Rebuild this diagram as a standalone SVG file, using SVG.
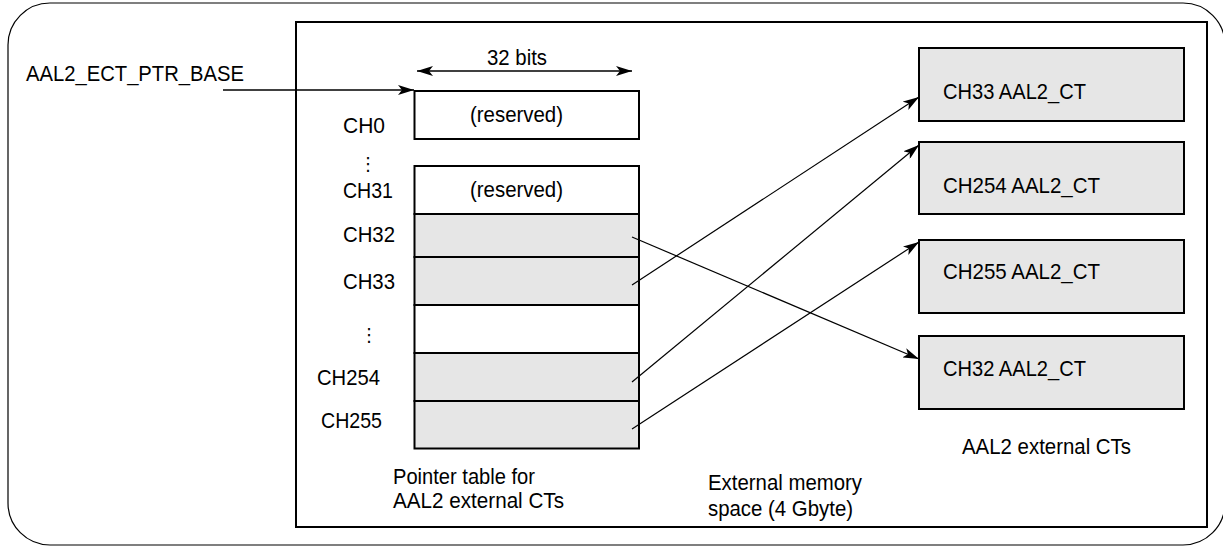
<svg xmlns="http://www.w3.org/2000/svg" width="1223" height="546" viewBox="0 0 1223 546">
<style>
text{font-family:"Liberation Sans",Arial,Helvetica,sans-serif;font-size:22px;fill:#000}
.box{fill:#fff;stroke:#000;stroke-width:2}
.gbox{fill:#e6e6e6;stroke:#000;stroke-width:2}
.conn{fill:none;stroke:#000;stroke-width:1.2}
.thick{fill:none;stroke:#000;stroke-width:1.6}
.dots{font-family:"DejaVu Sans",sans-serif;font-size:18px}
</style>
<defs>
<marker id="ah" markerUnits="userSpaceOnUse" viewBox="0 0 16 10" refX="16" refY="5" markerWidth="16" markerHeight="10" orient="auto">
<path d="M0,0 L16,5 L0,10 L4,5 z" fill="#000"/>
</marker>
<marker id="ahs" markerUnits="userSpaceOnUse" viewBox="0 0 16 10" refX="0" refY="5" markerWidth="16" markerHeight="10" orient="auto">
<path d="M16,0 L0,5 L16,10 L12,5 z" fill="#000"/>
</marker>
</defs>
<g id="frame">
<rect x="8" y="3" width="1217" height="542" rx="42" ry="42" fill="none" stroke="#000" stroke-width="1.2"/>
<rect x="296" y="22" width="911" height="505" fill="none" stroke="#000" stroke-width="2"/>
</g>
<g id="base-label"><text x="26" y="81" textLength="218" lengthAdjust="spacingAndGlyphs">AAL2_ECT_PTR_BASE</text></g>
<g id="width-label"><text x="487" y="65" textLength="60" lengthAdjust="spacingAndGlyphs">32 bits</text></g>
<g id="table">
<rect id="row-ch0" class="box" x="414.5" y="91" width="224.5" height="48"/>
<text x="470" y="122" textLength="93" lengthAdjust="spacingAndGlyphs">(reserved)</text>
<rect id="row-ch31" class="box" x="414.5" y="166" width="224.5" height="48"/>
<text x="470" y="197" textLength="93" lengthAdjust="spacingAndGlyphs">(reserved)</text>
<rect id="row-ch32" class="gbox" x="414.5" y="214" width="224.5" height="43"/>
<rect id="row-ch33" class="gbox" x="414.5" y="257" width="224.5" height="48"/>
<rect id="row-gap" class="box" x="414.5" y="305" width="224.5" height="48"/>
<rect id="row-ch254" class="gbox" x="414.5" y="353" width="224.5" height="48"/>
<rect id="row-ch255" class="gbox" x="414.5" y="401" width="224.5" height="47.5"/>
</g>
<g id="row-labels">
<text x="343" y="133" textLength="42" lengthAdjust="spacingAndGlyphs">CH0</text>
<text class="dots" x="368" y="170" text-anchor="middle">⋮</text>
<text x="343" y="198" textLength="50" lengthAdjust="spacingAndGlyphs">CH31</text>
<text x="343" y="242" textLength="52" lengthAdjust="spacingAndGlyphs">CH32</text>
<text x="343" y="289" textLength="52" lengthAdjust="spacingAndGlyphs">CH33</text>
<text class="dots" x="369" y="341" text-anchor="middle">⋮</text>
<text x="317" y="385" textLength="63" lengthAdjust="spacingAndGlyphs">CH254</text>
<text x="321" y="428" textLength="61" lengthAdjust="spacingAndGlyphs">CH255</text>
</g>
<g id="ct33"><rect class="gbox" x="919" y="48" width="265" height="73"/><text x="943" y="99" textLength="143" lengthAdjust="spacingAndGlyphs">CH33 AAL2_CT</text></g>
<g id="ct254"><rect class="gbox" x="919" y="142" width="265" height="72"/><text x="943" y="193" textLength="157" lengthAdjust="spacingAndGlyphs">CH254 AAL2_CT</text></g>
<g id="ct255"><rect class="gbox" x="919" y="240" width="265" height="73"/><text x="943" y="279" textLength="157" lengthAdjust="spacingAndGlyphs">CH255 AAL2_CT</text></g>
<g id="ct32"><rect class="gbox" x="919" y="336" width="265" height="73"/><text x="943" y="376" textLength="143" lengthAdjust="spacingAndGlyphs">CH32 AAL2_CT</text></g>
<g id="captions">
<text x="962" y="454" textLength="169" lengthAdjust="spacingAndGlyphs">AAL2 external CTs</text>
<text x="393" y="484" textLength="142" lengthAdjust="spacingAndGlyphs">Pointer table for</text>
<text x="393" y="508" textLength="171" lengthAdjust="spacingAndGlyphs">AAL2 external CTs</text>
<text x="708" y="490" textLength="154" lengthAdjust="spacingAndGlyphs">External memory</text>
<text x="708" y="516" textLength="145" lengthAdjust="spacingAndGlyphs">space (4 Gbyte)</text>
</g>
<g id="connectors">
<line class="thick" x1="223" y1="90" x2="414" y2="90" marker-end="url(#ah)"/>
<line class="thick" x1="417" y1="71" x2="632" y2="71" marker-start="url(#ahs)" marker-end="url(#ah)"/>
<line class="conn" x1="632" y1="237" x2="919" y2="359" marker-end="url(#ah)"/>
<line class="conn" x1="632" y1="285" x2="919" y2="97" marker-end="url(#ah)"/>
<line class="conn" x1="632" y1="382" x2="919" y2="145" marker-end="url(#ah)"/>
<line class="conn" x1="632" y1="429" x2="919" y2="242" marker-end="url(#ah)"/>
</g>
</svg>
